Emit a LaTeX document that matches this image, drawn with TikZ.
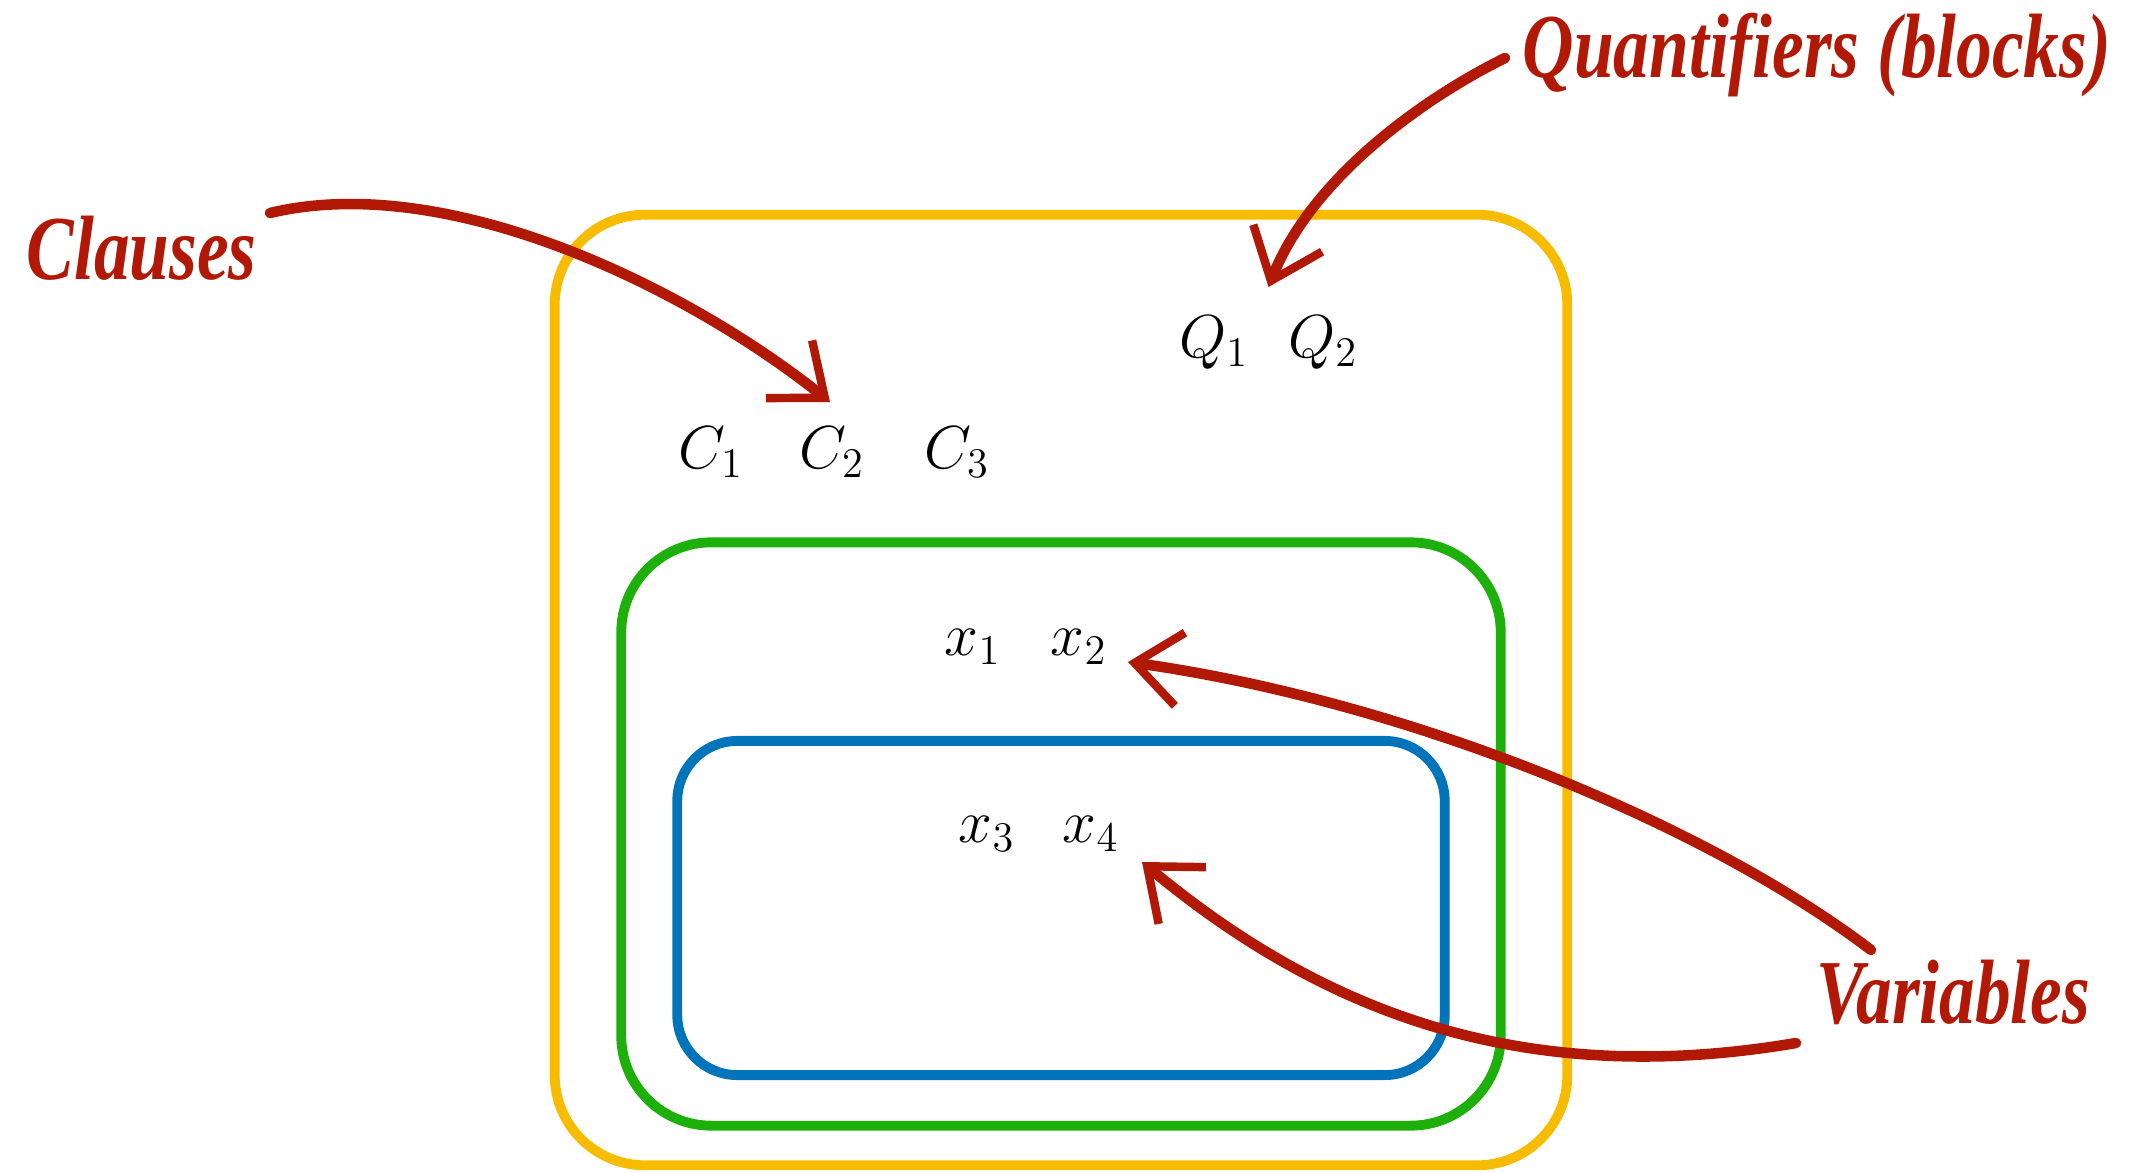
\documentclass[tikz,border=0pt]{standalone}
\usepackage{fontspec}
\newfontfamily\brushfont[FakeStretch=0.78]{Liberation Serif}
\usetikzlibrary{arrows.meta,calc}

\definecolor{setyellow}{RGB}{247,188,0}
\definecolor{setgreen}{RGB}{30,176,10}
\definecolor{setblue}{RGB}{0,116,186}
\definecolor{brushred}{RGB}{178,24,6}

\begin{document}
\begin{tikzpicture}[
  x=0.01cm, y=-0.01cm,
  every node/.style={align=center},
  %% --- nested sets ---
  setbox/.style={draw, line width=2.8pt, inner sep=0pt, rounded corners=9mm},
  var/.style={inner sep=1pt, font=\fontsize{18.5}{22}\selectfont},
  %% --- hand-written notes ---
  hand/.style={text=brushred, inner sep=0pt, anchor=base west,
    font=\brushfont\bfseries\itshape\fontsize{26}{30}\selectfont},
  brush/.style={draw=brushred, line width=3pt, line cap=round,
    -{Straight Barb[length=13pt, width=21pt, line width=2.4pt]}}
]
  \useasboundingbox (0,0) rectangle (2133,1173);

  %% boxes
  \node[setbox, draw=setyellow, minimum width=10.12cm, minimum height=9.5cm] (outer) at (1061,690) {};
  \node[setbox, draw=setgreen, minimum width=8.79cm, minimum height=5.83cm] (middle) at (1061,834) {};
  \node[setbox, draw=setblue, rounded corners=6mm, minimum width=7.67cm, minimum height=3.34cm] (inner) at (1061,908) {};

  %% clauses, quantifiers, variables
  \node[var] (c1) at (711,452) {$C_1$};
  \node[var] (c2) at (832,452) {$C_2$};
  \node[var] (c3) at (957,452) {$C_3$};
  \node[var] (q1) at (1214,343) {$Q_1$};
  \node[var] (q2) at (1323,343) {$Q_2$};
  \node[var] (x1) at (973,647) {$x_1$};
  \node[var] (x2) at (1079,647) {$x_2$};
  \node[var] (x3) at (987,834) {$x_3$};
  \node[var] (x4) at (1091,834) {$x_4$};

  %% notes
  \node[hand] (clauses) at (26,280) {Clauses};
  \node[hand] (quant) at (1522,78) {Quantifiers (blocks)};
  \node[hand] (vars) at (1816,1023) {Variables};

  %% arrows
  \draw[brush] ([shift={(244,-67)}]clauses.base west)
    .. controls +(180,-43) and +(-140,-112) .. ([shift={(-2,-50)}]c2.center);
  \draw[brush] ([shift={(-17,-20)}]quant.base west)
    .. controls +(-85,42) and +(42,-107) .. ($(q1)!0.5!(q2)+(0,-56)$);
  \draw[brush] ([shift={(55,-73)}]vars.base west)
    .. controls +(-171,-130) and +(272,38) .. ([shift={(49,15)}]x2.center);
  \draw[brush] ([shift={(-20,20)}]vars.base west)
    .. controls +(-276,47) and +(178,148) .. ([shift={(51,28)}]x4.center);
\end{tikzpicture}
\end{document}
